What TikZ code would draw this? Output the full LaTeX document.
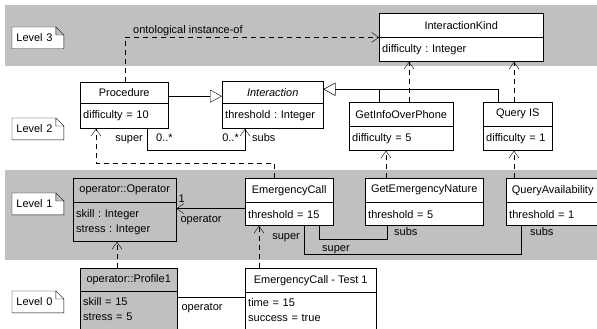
\documentclass[tikz,border=0pt]{standalone}
\usepackage{fontspec}
\setmainfont{Liberation Sans}
\usepackage{xcolor}
\usepackage{tikz}
\usetikzlibrary{shapes,arrows.meta,positioning,backgrounds}

\definecolor{bandgray}{HTML}{C0C0C0}
\frenchspacing

\begin{document}
\begin{tikzpicture}[
    x=1pt, y=-1pt,
    line width=0.8pt,
    font=\fontsize{11}{15}\selectfont,
    % UML class compartments
    clshead/.style={rectangle, draw, fill=white, anchor=north west,
        inner sep=2pt, text centered},
    clsbody/.style={rectangle, draw, fill=white, anchor=north west,
        inner xsep=3pt, inner ysep=2pt, align=left},
    % Level notes (outline drawn on the background layer)
    levelnote/.style={rectangle, anchor=north west, minimum width=51pt, minimum height=21pt,
        inner xsep=4pt, text width=43pt, align=left},
    % Connector styles
    gen/.style={-{Triangle[open, length=12pt, width=13pt, fill=white]}},
    instof/.style={dash pattern=on 5pt off 4pt, -{Straight Barb[length=7pt, width=10pt]}},
    assoc/.style={-{Straight Barb[length=7pt, width=10pt]}},
    role/.style={inner sep=1pt}
]
    \useasboundingbox (0,0) rectangle (597,329);
    \clip (0,0) rectangle (597,329);

    % Level notes
    \node[levelnote] (lvthree) at (12,27) {Level 3};
    \node[levelnote] (lvtwo) at (12,118) {Level 2};
    \node[levelnote] (lvone) at (12,193) {Level 1};
    \node[levelnote] (lvzero) at (12,291) {Level 0};

    % Level bands and note outlines
    \begin{pgfonlayer}{background}
        \fill[bandgray] (5,5) rectangle (597,66);
        \fill[bandgray] (5,170) rectangle (597,260);
        \foreach \lv in {lvthree,lvtwo,lvone,lvzero}
            \filldraw[fill=white] (\lv.south west) -- (\lv.north west) -- ([xshift=-8pt]\lv.north east)
                -- ([yshift=-8pt]\lv.north east) -- (\lv.south east) -- cycle
                ([xshift=-8pt]\lv.north east) |- ([yshift=-8pt]\lv.north east);
    \end{pgfonlayer}

    % Level 3
    \node[clshead, minimum width=164pt, minimum height=24pt] (kind-head) at (379,13) {InteractionKind};
    \node[clsbody, text width=158pt, minimum height=24pt] (kind-body) at (kind-head.south west) {difficulty : Integer};

    % Level 2
    \node[clshead, minimum width=88pt, minimum height=21pt] (proc-head) at (80,82) {Procedure};
    \node[clsbody, text width=82pt, minimum height=25pt] (proc-body) at (proc-head.south west) {difficulty = 10};
    \node[clshead, minimum width=101pt, minimum height=22pt] (inter-head) at (222,81) {\textit{Interaction}};
    \node[clsbody, text width=95pt, minimum height=25pt] (inter-body) at (inter-head.south west) {threshold : Integer};
    \node[clshead, minimum width=104pt, minimum height=24pt] (info-head) at (349,102) {GetInfoOverPhone};
    \node[clsbody, text width=98pt, minimum height=24pt] (info-body) at (info-head.south west) {difficulty = 5};
    \node[clshead, minimum width=69pt, minimum height=24pt] (query-head) at (483,102) {Query IS};
    \node[clsbody, text width=63pt, minimum height=24pt] (query-body) at (query-head.south west) {difficulty = 1};

    % Level 1
    \node[clshead, fill=bandgray, minimum width=103pt, minimum height=24pt] (oper-head) at (73,178) {operator::Operator};
    \node[clsbody, fill=bandgray, text width=97pt, minimum height=39pt] (oper-body) at (oper-head.south west) {skill : Integer\\stress : Integer};
    \node[clshead, minimum width=88pt, minimum height=24pt] (ecall-head) at (245,178) {EmergencyCall};
    \node[clsbody, text width=82pt, minimum height=23pt] (ecall-body) at (ecall-head.south west) {threshold = 15};
    \node[clshead, minimum width=118pt, minimum height=24pt] (nature-head) at (365,178) {GetEmergencyNature};
    \node[clsbody, text width=112pt, minimum height=23pt] (nature-body) at (nature-head.south west) {threshold = 5};
    \node[clshead, minimum width=93pt, minimum height=24pt] (avail-head) at (506,178) {QueryAvailability};
    \node[clsbody, text width=87pt, minimum height=23pt] (avail-body) at (avail-head.south west) {threshold = 1};

    % Level 0
    \node[clshead, fill=bandgray, minimum width=97pt, minimum height=23pt] (profile-head) at (80,268) {operator::Profile1};
    \node[clsbody, fill=bandgray, text width=91pt, minimum height=50pt] (profile-body) at (profile-head.south west) {skill = 15\\stress = 5\\~};
    \node[clshead, minimum width=131pt, minimum height=24pt] (test-head) at (245,268) {EmergencyCall - Test 1};
    \node[clsbody, text width=125pt, minimum height=50pt] (test-body) at (test-head.south west) {time = 15\\success = true\\~};

    % Generalizations
    \draw[gen] ([yshift=-3.5pt]proc-head.east) -- ([yshift=-4pt]inter-head.west);
    \draw[gen] ([xshift=30pt]info-head.north west) |- ([yshift=3pt]inter-head.east);
    \draw[gen] ([xshift=15pt]query-head.north west) |- ([yshift=3pt]inter-head.east);

    % Ontological instance-of (dashed)
    \draw[instof] ([xshift=45pt]proc-head.north west) |- (kind-head.south west)
        node[role, pos=0.5, anchor=south west, xshift=7pt] {ontological instance-of};
    \draw[instof] ([xshift=60pt]info-head.north west) -- ([xshift=30pt]kind-body.south west);
    \draw[instof] ([xshift=31pt]query-head.north west) -- ([xshift=135pt]kind-body.south west);
    \draw[instof] ([xshift=29pt]ecall-head.north west) -- ++(0,-15) -| ([xshift=16pt]proc-body.south west);
    \draw[instof] ([xshift=21pt]nature-head.north west) -- ([xshift=37pt]info-body.south west);
    \draw[instof] ([xshift=8pt]avail-head.north west) -- ([xshift=31pt]query-body.south west);
    \draw[instof] ([xshift=37pt]profile-head.north west) -- ([xshift=44pt]oper-body.south west);
    \draw[instof] ([xshift=14pt]test-head.north west) -- ([xshift=14pt]ecall-body.south west);

    % Associations
    \draw[assoc] ([xshift=67pt]proc-body.south west)
            node[role, anchor=base east, xshift=-3pt, yshift=-13pt] {super}
            node[role, anchor=base west, xshift=8pt, yshift=-13pt] {0..*}
        -- ++(0,21) -| ([xshift=23pt]inter-body.south west)
            node[role, anchor=base east, xshift=-5pt, yshift=-13pt] {0..*}
            node[role, anchor=base west, xshift=6pt, yshift=-13pt] {subs};
    \coordinate (opx) at ([yshift=5.5pt]ecall-body.west);
    \draw[assoc] (opx) -- (opx -| oper-body.east)
        node[role, anchor=base west, xshift=1pt, yshift=6.5pt] {1}
        node[role, anchor=base west, xshift=3pt, yshift=-13.5pt] {operator};
    \draw ([xshift=74pt]ecall-body.south west)
            node[role, anchor=base west, xshift=2pt, yshift=-26pt] {super}
        -- ++(0,13) -| ([xshift=22pt]nature-body.south west)
            node[role, anchor=base west, xshift=6pt, yshift=-10pt] {subs};
    \draw ([xshift=59pt]ecall-body.south west)
            node[role, anchor=base east, xshift=-3pt, yshift=-14pt] {super}
        -- ++(0,28) -| ([xshift=15pt]avail-body.south west)
            node[role, anchor=base west, xshift=8pt, yshift=-10pt] {subs};

    % Instance link
    \coordinate (opl) at ([yshift=-6pt]profile-body.north east);
    \draw (opl) node[role, anchor=base west, xshift=3pt, yshift=-13pt] {operator}
        -- (opl -| test-body.west);
\end{tikzpicture}
\end{document}
